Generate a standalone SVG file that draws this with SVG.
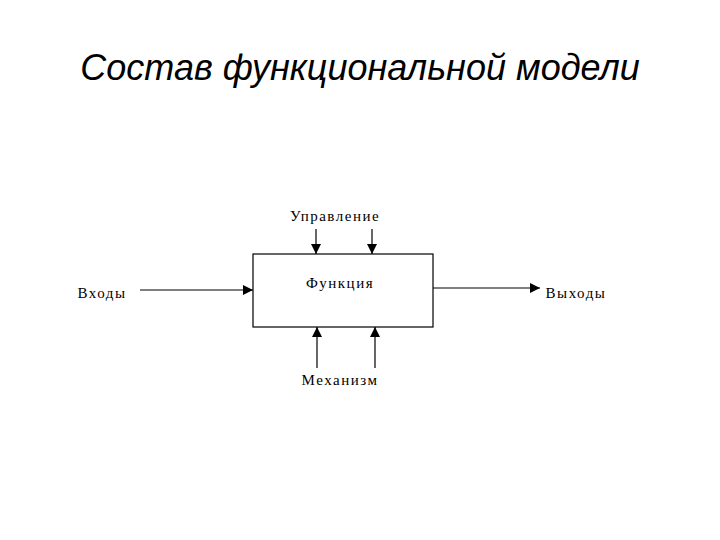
<svg xmlns="http://www.w3.org/2000/svg" width="720" height="540" viewBox="0 0 720 540">
<style>
.t{font-family:"Liberation Serif",serif;font-size:15px;letter-spacing:1.5px;fill:#000}
.l{stroke:#000;stroke-width:1.2;fill:none}
</style>
<defs><marker id="a" viewBox="0 0 10 10" refX="10" refY="5" markerWidth="10" markerHeight="10" markerUnits="userSpaceOnUse" orient="auto"><path d="M0,0L10,5L0,10z" fill="#000"/></marker></defs>
<rect width="720" height="540" fill="#fff"/>
<text x="360" y="80" text-anchor="middle" font-family="Liberation Sans,sans-serif" font-style="italic" font-size="36">Состав функциональной модели</text>
<g id="func"><rect x="253" y="254" width="180" height="73" fill="#fff" stroke="#000" stroke-width="1.2"/><text class="t" x="340" y="288" text-anchor="middle">Функция</text></g>
<g id="upr"><text class="t" x="335" y="221" text-anchor="middle">Управление</text></g>
<g id="vhod"><text class="t" x="102" y="298" text-anchor="middle">Входы</text></g>
<g id="vyhod"><text class="t" x="576" y="298" text-anchor="middle">Выходы</text></g>
<g id="meh"><text class="t" x="340" y="385" text-anchor="middle">Механизм</text></g>
<g id="connectors">
<line class="l" x1="316" y1="229" x2="316" y2="254" marker-end="url(#a)"/>
<line class="l" x1="372" y1="229" x2="372" y2="254" marker-end="url(#a)"/>
<line class="l" x1="317" y1="368" x2="317" y2="327" marker-end="url(#a)"/>
<line class="l" x1="375" y1="368" x2="375" y2="327" marker-end="url(#a)"/>
<line class="l" x1="140" y1="290" x2="253" y2="290" stroke-width="2" marker-end="url(#a)"/>
<line class="l" x1="433" y1="288" x2="540" y2="288" marker-end="url(#a)"/>
</g>
</svg>
